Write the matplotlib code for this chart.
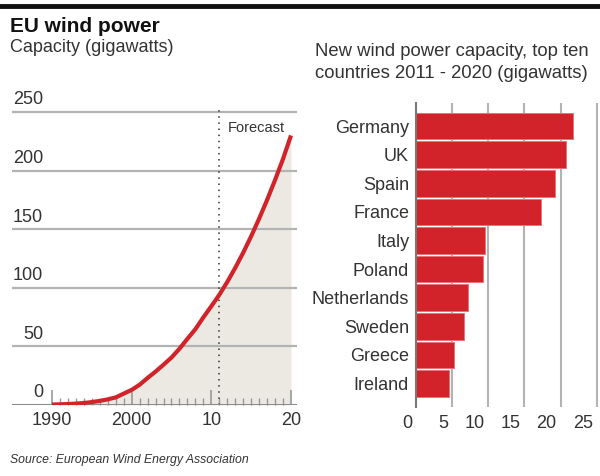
import matplotlib.pyplot as plt
from matplotlib.ticker import FixedLocator
import matplotlib.transforms as mtransforms

plt.rcParams['font.family'] = ['Liberation Sans', 'DejaVu Sans']

# EU cumulative wind capacity (GW), forecast from 2011
years = [1990, 1991, 1992, 1993, 1994, 1995, 1996, 1997, 1998, 1999, 2000,
         2001, 2002, 2003, 2004, 2005, 2006, 2007, 2008, 2009, 2010,
         2011, 2012, 2013, 2014, 2015, 2016, 2017, 2018, 2019, 2020]
capacity = [0.4, 0.6, 0.8, 1.2, 1.7, 2.5, 3.5, 4.8, 6.5, 9.7, 12.9,
            17.3, 23.1, 28.5, 34.4, 40.5, 48.0, 56.5, 64.7, 74.8, 84.3,
            94, 105, 117, 130, 144, 159, 175, 192, 210, 230]
forecast_year = 2011
cap_ticks = [0, 50, 100, 150, 200, 250]
year_ticks = [1990, 2000, 2010, 2020]
year_labels = ['1990', '2000', '10', '20']

# new capacity 2011-2020, top ten countries (GW)
countries = ['Germany', 'UK', 'Spain', 'France', 'Italy', 'Poland',
             'Netherlands', 'Sweden', 'Greece', 'Ireland']
new_capacity = [21.7, 20.7, 19.2, 17.3, 9.6, 9.3, 7.2, 6.7, 5.3, 4.6]
gw_ticks = [0, 5, 10, 15, 20, 25]

W, H = 600, 476
RED = '#d2232a'
GRID = '#b3b3b3'
TXT = '#333333'

fig = plt.figure(figsize=(W / 100, H / 100), dpi=100)


def px_axes(x0, y0, x1, y1):
    # axes from pixel box (top-left origin)
    return fig.add_axes([x0 / W, 1 - y1 / H, (x1 - x0) / W, (y1 - y0) / H])


# header
fig.add_artist(plt.Line2D([0, 1], [1 - 6 / H, 1 - 6 / H], color='#111111', lw=3.5))
fig.text(10 / W, 1 - 27 / H, 'EU wind power', fontsize=15, fontweight='bold',
         color='#111111', va='center')
fig.text(10 / W, 1 - 47 / H, 'Capacity (gigawatts)', fontsize=13, color=TXT, va='center')
fig.text(315 / W, 1 - 52 / H, 'New wind power capacity, top ten', fontsize=13.3,
         color=TXT, va='center')
fig.text(315 / W, 1 - 73 / H, 'countries 2011 - 2020 (gigawatts)', fontsize=13.3,
         color=TXT, va='center')
fig.text(10 / W, 1 - 460 / H, 'Source: European Wind Energy Association',
         fontsize=8.8, style='italic', color=TXT, va='center')

# ---- left: capacity line ----
ax = px_axes(12, 108, 297, 405)
ax.set_xlim(1990 - 40 / 7.97, 2020 + 6 / 7.97)
ax.set_ylim(0, 250 * 297 / 293)
for s in ax.spines.values():
    s.set_visible(False)
ax.fill_between(years, capacity, 0, color='#ebe9e2', zorder=1, lw=0)
for v in cap_ticks[1:]:
    ax.axhline(v, color=GRID, lw=1.6, zorder=2)
ax.axhline(0, color='#8c8c8c', lw=2.2, zorder=4)
ytrans = mtransforms.blended_transform_factory(ax.transAxes, ax.transData)
for v in cap_ticks:
    ax.text(31 / 285, v + 3, str(v), transform=ytrans,
            ha='right', va='bottom', fontsize=13, color=TXT)
ax.plot(years, capacity, color=RED, lw=3, zorder=5, solid_capstyle='butt')
ax.axvline(forecast_year, color='#333333', lw=1.1, ls=(0, (1, 3)), zorder=3)
ax.text(forecast_year + 1.1, 236, 'Forecast', fontsize=10.5, color=TXT,
        ha='left', va='center')
ax.xaxis.set_major_locator(FixedLocator(year_ticks))
ax.xaxis.set_minor_locator(FixedLocator([y for y in range(year_ticks[0], year_ticks[-1] + 1)
                                         if y not in year_ticks]))
ax.set_xticklabels(year_labels)
ax.tick_params(axis='x', which='major', direction='in', length=11, width=1.2,
               color='#999999', labelsize=13, labelcolor=TXT, pad=5)
ax.tick_params(axis='x', which='minor', direction='in', length=5, width=1.0,
               color='#999999')
ax.set_yticks([])
ax.patch.set_visible(False)

# ---- right: bars ----
bx = px_axes(416, 103, 598, 407)
pitch = 28.6
bx.set_ylim(9 + (407 - 383.5) / pitch, -(126 - 103) / pitch)
bx.set_xlim(0, 25 * 182 / 180.7)
for s in ['top', 'right', 'bottom']:
    bx.spines[s].set_visible(False)
bx.spines['left'].set_color('#777777')
bx.spines['left'].set_linewidth(1.5)
bx.spines['left'].set_zorder(4)
for v in gw_ticks[1:]:
    bx.axvline(v, color=GRID, lw=1.5, zorder=1)
bx.barh(range(len(countries)), new_capacity, height=0.93, color=RED,
        edgecolor='#e4767a', linewidth=0.7, zorder=3)
bx.set_yticks(range(len(countries)))
bx.set_yticklabels(countries)
bx.tick_params(axis='y', length=0, labelsize=13, labelcolor=TXT, pad=5)
bx.set_xticks([])
# value labels sit just left of their gridline
xtrans = mtransforms.offset_copy(
    mtransforms.blended_transform_factory(bx.transData, bx.transAxes),
    fig=fig, x=-4, y=0, units='dots')
for v in gw_ticks:
    bx.text(v, -0.025, str(v), transform=xtrans, ha='right', va='top',
            fontsize=13, color=TXT)

fig.savefig('out.png', dpi=100)
